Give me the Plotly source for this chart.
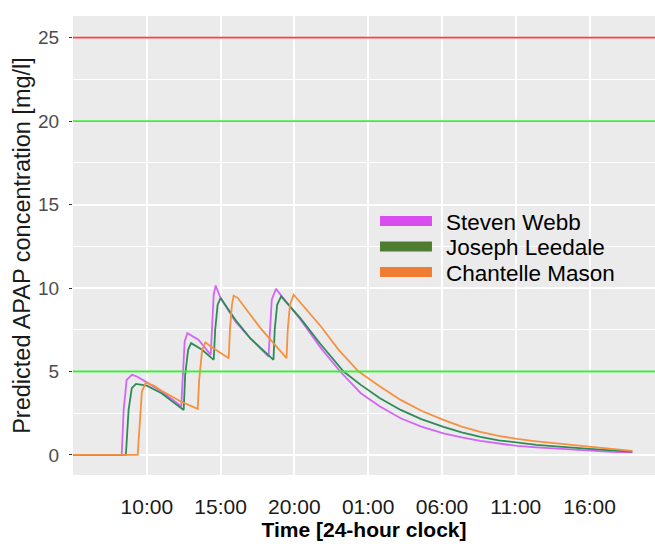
import plotly.graph_objects as go

# Predicted APAP concentration (mg/l) per patient, by clock time
webb_time = [
    "2020-03-01 05:00", "2020-03-01 08:18", "2020-03-01 08:26", "2020-03-01 08:38",
    "2020-03-01 09:00", "2020-03-01 09:20", "2020-03-01 10:00", "2020-03-01 11:00",
    "2020-03-01 12:00", "2020-03-01 12:20", "2020-03-01 12:26", "2020-03-01 12:34",
    "2020-03-01 12:45", "2020-03-01 13:30", "2020-03-01 14:20", "2020-03-01 14:25",
    "2020-03-01 14:32", "2020-03-01 14:40", "2020-03-01 15:00", "2020-03-01 16:00",
    "2020-03-01 17:00", "2020-03-01 18:15", "2020-03-01 18:20", "2020-03-01 18:28",
    "2020-03-01 18:45", "2020-03-01 20:25", "2020-03-01 21:48", "2020-03-01 23:06",
    "2020-03-02 00:30", "2020-03-02 01:48", "2020-03-02 03:12", "2020-03-02 04:36",
    "2020-03-02 06:06", "2020-03-02 07:20", "2020-03-02 08:36", "2020-03-02 09:50",
    "2020-03-02 11:06", "2020-03-02 12:24", "2020-03-02 13:42", "2020-03-02 14:50",
    "2020-03-02 16:00", "2020-03-02 17:30", "2020-03-02 18:54",
]
webb_conc = [
    0, 0, 2.7, 4.5,
    4.8, 4.7, 4.35, 3.8,
    3.15, 2.9, 4.6, 6.8,
    7.3, 6.9, 6.0, 7.8,
    9.6, 10.15, 9.4, 8.0,
    7.0, 5.9, 7.5, 9.3,
    9.95, 8.1, 6.4, 5.0,
    3.7, 2.9, 2.2, 1.7,
    1.3, 1.05, 0.84, 0.68,
    0.54, 0.45, 0.38, 0.3,
    0.24, 0.19, 0.15,
]

leedale_time = [
    "2020-03-01 05:00", "2020-03-01 08:35", "2020-03-01 08:46", "2020-03-01 08:59",
    "2020-03-01 09:16", "2020-03-01 10:00", "2020-03-01 11:00", "2020-03-01 12:00",
    "2020-03-01 12:30", "2020-03-01 12:36", "2020-03-01 12:48", "2020-03-01 13:00",
    "2020-03-01 13:45", "2020-03-01 14:32", "2020-03-01 14:38", "2020-03-01 14:48",
    "2020-03-01 15:00", "2020-03-01 16:00", "2020-03-01 17:00", "2020-03-01 18:35",
    "2020-03-01 18:40", "2020-03-01 18:50", "2020-03-01 19:06", "2020-03-01 20:24",
    "2020-03-01 21:46", "2020-03-01 23:20", "2020-03-02 00:30", "2020-03-02 01:48",
    "2020-03-02 03:12", "2020-03-02 04:36", "2020-03-02 06:06", "2020-03-02 07:20",
    "2020-03-02 08:36", "2020-03-02 09:50", "2020-03-02 11:06", "2020-03-02 12:24",
    "2020-03-02 13:42", "2020-03-02 14:50", "2020-03-02 16:00", "2020-03-02 17:30",
    "2020-03-02 18:54",
]
leedale_conc = [
    0, 0, 2.7, 4.0,
    4.26, 4.15, 3.7, 3.05,
    2.7, 4.8, 6.3, 6.7,
    6.3, 5.7, 7.5, 9.0,
    9.4, 8.1, 7.0, 5.7,
    7.5, 9.0, 9.5, 8.2,
    6.65, 5.0, 4.2, 3.4,
    2.7, 2.15, 1.68, 1.35,
    1.08, 0.88, 0.72, 0.6,
    0.52, 0.43, 0.36, 0.27,
    0.2,
]

mason_time = [
    "2020-03-01 05:00", "2020-03-01 09:23", "2020-03-01 09:32", "2020-03-01 09:40",
    "2020-03-01 09:56", "2020-03-01 10:30", "2020-03-01 11:00", "2020-03-01 12:18",
    "2020-03-01 13:27", "2020-03-01 13:33", "2020-03-01 13:45", "2020-03-01 13:58",
    "2020-03-01 14:20", "2020-03-01 15:33", "2020-03-01 15:38", "2020-03-01 15:46",
    "2020-03-01 15:53", "2020-03-01 16:10", "2020-03-01 17:42", "2020-03-01 19:28",
    "2020-03-01 19:33", "2020-03-01 19:42", "2020-03-01 19:57", "2020-03-01 21:48",
    "2020-03-01 23:00", "2020-03-02 00:21", "2020-03-02 01:48", "2020-03-02 03:12",
    "2020-03-02 04:36", "2020-03-02 06:06", "2020-03-02 07:20", "2020-03-02 08:36",
    "2020-03-02 09:50", "2020-03-02 11:06", "2020-03-02 12:24", "2020-03-02 13:42",
    "2020-03-02 14:50", "2020-03-02 16:00", "2020-03-02 17:30", "2020-03-02 18:54",
]
mason_conc = [
    0, 0, 2.0, 3.8,
    4.33, 4.15, 3.85, 3.2,
    2.76, 4.5, 6.3, 6.75,
    6.5, 5.8, 7.5, 9.0,
    9.55, 9.4, 7.6, 5.8,
    7.5, 9.0, 9.6, 7.7,
    6.3, 5.0, 4.1, 3.3,
    2.65, 2.1, 1.7, 1.38,
    1.15, 0.96, 0.82, 0.7,
    0.58, 0.48, 0.36, 0.25,
]

patients = ["Steven Webb", "Joseph Leedale", "Chantelle Mason"]
line_colors = ["#D266F5", "#2E8B57", "#F5913F"]
key_colors = ["#D94CF0", "#4E7D32", "#EF7E33"]

# Reference thresholds (mg/l)
threshold_levels = [25, 20, 5]
threshold_colors = ["#FF3B3B", "#3DEB3D", "#3DEB3D"]

# Axis labelling
x_label_times = ["2020-03-01 10:00", "2020-03-01 15:00", "2020-03-01 20:00",
                 "2020-03-02 01:00", "2020-03-02 06:00", "2020-03-02 11:00",
                 "2020-03-02 16:00"]
x_label_text = ["10:00", "15:00", "20:00", "01:00", "06:00", "11:00", "16:00"]
x_tick_times = ["2020-03-01 05:00", "2020-03-01 15:00",
                "2020-03-02 01:00", "2020-03-02 11:00"]
x_range = ["2020-03-01 05:00", "2020-03-02 20:26"]
y_major = [0, 5, 10, 15, 20, 25]

series = [(webb_time, webb_conc), (leedale_time, leedale_conc), (mason_time, mason_conc)]

fig = go.Figure()

for (t, c), name, col in zip(series, patients, line_colors):
    fig.add_trace(go.Scatter(x=t, y=c, mode="lines", name=name, showlegend=False,
                             line=dict(color=col, width=1.8), hoverinfo="skip"))

for lvl, col in zip(threshold_levels, threshold_colors):
    fig.add_shape(type="line", xref="paper", x0=0, x1=1, yref="y", y0=lvl, y1=lvl,
                  line=dict(color=col, width=1.8), layer="above")

# Legend: thick colour keys with labels, placed inside the panel
key_x0, key_x1, label_x = 0.5275, 0.6168, 0.637
row_y = [0.5534, 0.4978, 0.4423]
key_half = 0.0109
for name, col, yc in zip(patients, key_colors, row_y):
    fig.add_shape(type="rect", xref="paper", yref="paper",
                  x0=key_x0, x1=key_x1, y0=yc - key_half, y1=yc + key_half,
                  fillcolor=col, line=dict(width=0), layer="above")
    fig.add_annotation(x=label_x, y=yc - 0.003, xref="paper", yref="paper",
                       text=name, showarrow=False, xanchor="left", yanchor="middle",
                       font=dict(size=22.5, color="black"))

fig.update_layout(
    width=655, height=544,
    margin=dict(l=73, r=0, t=16, b=69),
    paper_bgcolor="white",
    plot_bgcolor="#EBEBEB",
    font=dict(family="Liberation Sans, Arial, sans-serif", color="black"),
    showlegend=False,
    xaxis=dict(
        type="date", range=x_range,
        tickmode="array", tickvals=x_label_times, ticktext=x_label_text,
        ticks="", showgrid=True, gridcolor="white", gridwidth=1.5,
        zeroline=False, showline=False,
        tickfont=dict(size=21, color="#1a1a1a"), ticklabelstandoff=17,
        title=dict(text="<b>Time [24-hour clock]</b>", font=dict(size=21, color="black"),
                   standoff=4),
    ),
    xaxis2=dict(
        type="date", range=x_range, overlaying="x", side="bottom",
        tickmode="array", tickvals=x_tick_times, ticktext=["", "", "", ""],
        ticks="outside", ticklen=4, tickwidth=1.2, tickcolor="#333333",
        showgrid=False, zeroline=False, showline=False,
    ),
    yaxis=dict(
        range=[-1.2, 26.3], tickmode="array", tickvals=y_major,
        ticks="outside", ticklen=3, tickwidth=1.2, tickcolor="#333333",
        showgrid=True, gridcolor="white", gridwidth=1.5,
        minor=dict(dtick=2.5, tick0=0, showgrid=True, gridcolor="white", gridwidth=1.1),
        zeroline=False, showline=False,
        tickfont=dict(size=19, color="#4D4D4D"), ticklabelstandoff=6,
        title=dict(text="Predicted APAP concentration [mg/l]",
                   font=dict(size=23.5, color="#1a1a1a"), standoff=0),
    ),
)

fig.write_html("out.html")
